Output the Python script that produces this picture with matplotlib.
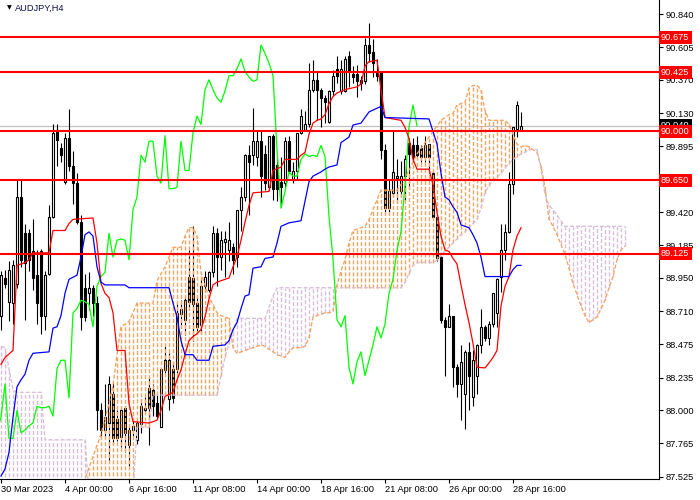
import numpy as np
import matplotlib
matplotlib.use('Agg')
import matplotlib.pyplot as plt

plt.rcParams['font.family'] = ['Liberation Sans', 'DejaVu Sans']
plt.rcParams['lines.scale_dashes'] = False

# AUDJPY H4 candles, bar 0 = 30 Mar 2023 16:00
opens = [88.68, 88.95, 88.78, 88.77, 88.91, 89.53, 89.27, 89.27, 89.14, 88.97,
         89.14, 88.68, 88.98, 89.39, 90.01, 89.88, 89.64, 89.95, 89.75, 89.63,
         89.35, 88.88, 88.84, 88.88, 88.77, 88.00, 87.86, 87.91, 88.12, 87.94,
         87.81, 88.02, 87.75, 87.86, 87.79, 87.90, 88.00, 88.16, 88.15, 88.05,
         87.88, 88.29, 88.08, 88.30, 88.30, 88.69, 88.65, 88.96, 88.95, 88.77,
         88.61, 88.89, 88.86, 88.99, 89.27, 89.10, 89.21, 89.15, 89.17, 89.10,
         89.44, 89.53, 89.83, 89.83, 89.82, 89.93, 89.84, 89.60, 89.97, 89.76,
         89.64, 89.63, 89.93, 89.65, 89.72, 89.99, 90.01, 90.05, 90.30, 90.37,
         90.30, 90.24, 90.07, 90.29, 90.45, 90.29, 90.29, 90.54, 90.41, 90.41,
         90.35, 90.36, 90.62, 90.57, 90.42, 90.42, 89.87, 89.45, 89.56, 89.67,
         89.57, 89.68, 89.92, 89.90, 89.90, 89.88, 89.82, 89.91, 89.70, 89.39,
         89.10, 88.65, 88.60, 88.68, 88.31, 88.19, 88.12, 88.42, 88.10, 88.25,
         88.47, 88.60, 88.52, 88.62, 88.70, 88.96, 89.15, 89.28, 89.62, 90.02,
         90.01]
highs = [89.00, 89.01, 89.07, 89.08, 89.66, 89.65, 89.34, 89.30, 89.37, 89.15,
         89.16, 89.00, 89.47, 90.05, 90.05, 89.92, 89.99, 90.16, 89.86, 89.70,
         89.40, 88.98, 88.99, 88.90, 88.82, 88.05, 88.19, 88.25, 88.20, 88.00,
         88.02, 88.03, 87.88, 87.93, 87.93, 88.08, 88.10, 88.24, 88.19, 88.11,
         88.30, 88.46, 88.41, 88.35, 88.77, 88.79, 88.82, 89.15, 89.32, 88.82,
         88.95, 89.00, 89.00, 89.32, 89.31, 89.29, 89.29, 89.35, 89.20, 89.44,
         89.60, 89.84, 89.90, 90.17, 90.01, 90.00, 89.90, 89.97, 89.98, 89.82,
         89.82, 89.96, 89.97, 89.78, 89.99, 90.16, 90.15, 90.49, 90.51, 90.43,
         90.31, 90.26, 90.30, 90.44, 90.54, 90.51, 90.54, 90.58, 90.47, 90.48,
         90.40, 90.67, 90.78, 90.66, 90.52, 90.43, 89.91, 89.66, 90.00, 89.80,
         89.79, 89.83, 89.95, 89.95, 89.97, 89.90, 89.97, 89.91, 89.72, 89.40,
         89.11, 88.67, 88.76, 88.68, 88.33, 88.47, 88.43, 88.49, 88.43, 88.48,
         88.73, 88.61, 88.64, 88.84, 88.95, 89.34, 89.34, 89.71, 90.03, 90.22,
         90.14]
lows = [88.58, 88.88, 88.64, 88.62, 88.88, 89.03, 88.65, 89.00, 88.86, 88.62,
        88.55, 88.58, 88.97, 89.38, 89.75, 89.78, 89.62, 89.72, 89.48, 89.34,
        88.58, 88.64, 88.72, 88.68, 87.86, 87.82, 87.81, 87.64, 87.75, 87.78,
        87.74, 87.70, 87.60, 87.82, 87.76, 87.84, 87.99, 87.75, 87.96, 87.94,
        87.88, 88.27, 88.00, 88.05, 88.27, 88.59, 88.54, 88.72, 88.50, 88.55,
        88.55, 88.85, 88.85, 88.96, 88.89, 89.01, 88.96, 89.07, 88.98, 89.03,
        89.29, 89.50, 89.40, 89.76, 89.75, 89.53, 89.58, 89.58, 89.51, 89.50,
        89.46, 89.60, 89.70, 89.63, 89.65, 89.98, 90.00, 90.03, 90.28, 90.08,
        90.03, 90.06, 90.06, 90.26, 90.35, 90.27, 90.28, 90.32, 90.35, 90.25,
        90.30, 90.34, 90.50, 90.39, 90.36, 89.80, 89.41, 89.42, 89.53, 89.49,
        89.53, 89.50, 89.59, 89.78, 89.80, 89.78, 89.78, 89.70, 89.38, 89.07,
        88.63, 88.25, 88.60, 88.17, 88.10, 87.93, 87.87, 88.00, 88.03, 88.12,
        88.41, 88.50, 88.47, 88.60, 88.60, 88.85, 89.08, 89.27, 89.55, 89.96,
        90.00]
closes = [88.97, 88.91, 89.01, 89.04, 89.53, 89.08, 89.06, 89.08, 88.95, 88.77,
          88.68, 88.97, 89.39, 89.99, 89.94, 89.83, 89.95, 89.75, 89.63, 89.35,
          88.67, 88.67, 88.88, 88.77, 88.00, 87.86, 87.95, 88.19, 87.80, 87.80,
          88.00, 87.84, 87.86, 87.89, 87.91, 88.03, 88.02, 88.02, 88.03, 87.96,
          88.30, 88.36, 88.36, 88.09, 88.70, 88.73, 88.79, 88.78, 88.76, 88.60,
          88.89, 88.96, 88.99, 89.27, 89.10, 89.22, 89.23, 89.22, 89.08, 89.44,
          89.53, 89.83, 89.78, 89.93, 89.93, 89.68, 89.63, 89.97, 89.59, 89.59,
          89.60, 89.93, 89.72, 89.72, 89.99, 90.11, 90.05, 90.30, 90.37, 90.30,
          90.24, 90.21, 90.29, 90.40, 90.40, 90.45, 90.52, 90.43, 90.39, 90.36,
          90.37, 90.62, 90.56, 90.49, 90.40, 89.87, 89.45, 89.57, 89.71, 89.68,
          89.68, 89.80, 89.84, 89.82, 89.83, 89.82, 89.90, 89.82, 89.39, 89.09,
          88.65, 88.60, 88.68, 88.31, 88.19, 88.35, 88.42, 88.25, 88.36, 88.47,
          88.60, 88.52, 88.62, 88.84, 88.94, 89.15, 89.28, 89.62, 90.03, 90.19,
          90.04]

# Tenkan-sen (red) and Kijun-sen (blue): bar index, price
tenkan_bar = [0, 1, 3, 4, 6, 7, 8, 12, 13, 16, 17, 18, 23, 24, 25, 26, 27, 28, 29, 31,
              32, 33, 37, 39, 40, 41, 43, 44, 45, 46, 47, 48, 49, 50, 51, 52, 53, 54, 57, 58,
              59, 60, 61, 62, 63, 67, 68, 70, 71, 74, 75, 76, 77, 78, 79, 80, 81, 82, 83, 84,
              86, 89, 90, 91, 92, 94, 95, 96, 100, 101, 102, 103, 104, 107, 108, 109, 110, 111, 112, 113,
              114, 115, 116, 117, 118, 119, 121, 122, 123, 124, 125, 126, 127, 128, 129, 130]
tenkan_val = [88.33, 88.38, 88.43, 89.04, 89.06, 89.08, 89.13, 89.13, 89.29, 89.29,
              89.34, 89.37, 89.38, 89.20, 88.91, 88.84, 88.81, 88.70, 88.43, 88.43,
              88.05, 87.92, 87.91, 87.93, 88.00, 88.10, 88.13, 88.22, 88.29, 88.40,
              88.50, 88.53, 88.55, 88.58, 88.67, 88.80, 88.90, 88.92, 88.95, 89.03,
              89.10, 89.22, 89.35, 89.47, 89.56, 89.57, 89.72, 89.745, 89.80, 89.80,
              89.83, 89.85, 89.98, 90.06, 90.08, 90.09, 90.12, 90.20, 90.25, 90.276,
              90.30, 90.32, 90.34, 90.47, 90.50, 90.51, 90.30, 90.10, 90.08, 90.03,
              89.95, 89.80, 89.73, 89.73, 89.62, 89.42, 89.25, 89.15, 89.14, 89.09,
              89.05, 88.90, 88.76, 88.63, 88.48, 88.31, 88.305, 88.34, 88.38, 88.43,
              88.75, 88.89, 88.96, 89.15, 89.25, 89.31]
kijun_bar = [0, 1, 2, 3, 4, 5, 6, 7, 8, 12, 13, 14, 15, 16, 17, 19, 20, 21, 22, 23,
             24, 25, 26, 31, 32, 42, 43, 44, 45, 46, 48, 49, 52, 53, 56, 57, 58, 59, 60, 61,
             62, 63, 65, 66, 68, 69, 70, 72, 75, 76, 77, 78, 80, 81, 82, 84, 85, 86, 87, 88,
             90, 91, 92, 95, 96, 107, 108, 109, 110, 111, 112, 113, 114, 115, 117, 118, 119, 120, 121, 127,
             128, 129, 130]
kijun_val = [87.53, 87.58, 87.70, 87.95, 88.17, 88.22, 88.26, 88.36, 88.41, 88.42,
             88.59, 88.60, 88.68, 88.84, 88.94, 88.97, 89.10, 89.26, 89.28, 89.25,
             89.03, 88.92, 88.90, 88.90, 88.88, 88.88, 88.77, 88.67, 88.50, 88.40,
             88.40, 88.36, 88.36, 88.46, 88.47, 88.50, 88.58, 88.63, 88.73, 88.82,
             88.83, 89.02, 89.03, 89.09, 89.10, 89.20, 89.32, 89.345, 89.36, 89.50,
             89.64, 89.68, 89.71, 89.73, 89.745, 89.76, 89.92, 89.94, 89.96, 90.046,
             90.06, 90.10, 90.14, 90.18, 90.10, 90.09, 90.00, 89.91, 89.70, 89.53,
             89.51, 89.46, 89.42, 89.33, 89.31, 89.26, 89.20, 89.10, 88.96, 88.96,
             89.01, 89.04, 89.04]

# Senkou spans per bar (already shifted 26 bars ahead), bars 0..156
span_a = [87.30, 87.30, 87.30, 87.30, 87.30, 87.30, 87.30, 87.30, 87.30, 87.30,
          87.30, 87.30, 87.30, 87.30, 87.30, 87.30, 87.30, 87.30, 87.30, 87.30,
          87.30, 87.51, 87.59, 87.67, 87.75, 87.83, 87.94, 88.05, 88.18, 88.40,
          88.60, 88.62, 88.64, 88.70, 88.77, 88.77, 88.77, 88.77, 88.77, 88.93,
          88.98, 89.03, 89.10, 89.17, 89.17, 89.17, 89.25, 89.31, 89.31, 89.25,
          88.99, 88.90, 88.81, 88.76, 88.70, 88.68, 88.67, 88.66, 88.45, 88.41,
          88.42, 88.43, 88.44, 88.45, 88.46, 88.47, 88.46, 88.44, 88.42, 88.40,
          88.39, 88.38, 88.42, 88.45, 88.45, 88.45, 88.46, 88.52, 88.67, 88.68,
          88.69, 88.70, 88.70, 88.71, 88.90, 89.00, 89.08, 89.20, 89.29, 89.30,
          89.31, 89.32, 89.37, 89.44, 89.51, 89.58, 89.58, 89.58, 89.58, 89.58,
          89.62, 89.67, 89.72, 89.78, 89.84, 89.88, 89.92, 89.96, 90.00, 90.04,
          90.08, 90.10, 90.12, 90.13, 90.19, 90.20, 90.21, 90.31, 90.33, 90.33,
          90.30, 90.15, 90.08, 90.08, 90.08, 90.08, 90.08, 90.05, 89.98, 89.91,
          89.89, 89.90, 89.89, 89.87, 89.85, 89.75, 89.60, 89.37, 89.32, 89.26,
          89.19, 89.12, 89.02, 88.91, 88.83, 88.75, 88.68, 88.63, 88.65, 88.67,
          88.73, 88.79, 88.88, 88.96, 89.08, 89.15, 89.18]
span_b = [88.46, 88.45, 88.30, 88.15, 88.13, 88.13, 88.13, 88.13, 88.13, 88.13,
          88.13, 87.79, 87.79, 87.79, 87.79, 87.79, 87.79, 87.79, 87.79, 87.79,
          87.79, 87.79, 87.40, 87.40, 87.40, 87.40, 87.40, 87.40, 87.40, 87.40,
          87.40, 87.40, 87.40, 87.40, 87.88, 87.88, 87.88, 87.88, 88.11, 88.11,
          88.11, 88.11, 88.11, 88.11, 88.11, 88.11, 88.11, 88.11, 88.11, 88.11,
          88.11, 88.11, 88.11, 88.11, 88.11, 88.25, 88.38, 88.48, 88.56, 88.66,
          88.66, 88.66, 88.66, 88.66, 88.66, 88.66, 88.66, 88.74, 88.82, 88.88,
          88.88, 88.88, 88.88, 88.88, 88.88, 88.88, 88.88, 88.88, 88.88, 88.88,
          88.88, 88.88, 88.88, 88.88, 88.88, 88.88, 88.88, 88.88, 88.88, 88.88,
          88.88, 88.88, 88.88, 88.88, 88.88, 88.88, 88.88, 88.88, 88.88, 88.88,
          88.88, 88.92, 88.98, 89.04, 89.06, 89.06, 89.06, 89.06, 89.06, 89.08,
          89.11, 89.14, 89.17, 89.20, 89.23, 89.26, 89.28, 89.31, 89.34, 89.37,
          89.45, 89.56, 89.61, 89.65, 89.67, 89.70, 89.74, 89.77, 89.80, 89.82,
          89.84, 89.85, 89.87, 89.87, 89.87, 89.73, 89.55, 89.47, 89.44, 89.40,
          89.36, 89.32, 89.32, 89.32, 89.32, 89.32, 89.32, 89.32, 89.32, 89.32,
          89.32, 89.32, 89.32, 89.32, 89.32, 89.32, 89.32]

levels = [90.675, 90.425, 90.000, 89.650, 89.125]
bid = 90.040
price_ticks = [90.840, 90.605, 90.370, 90.130, 89.895, 89.420, 89.185,
               88.950, 88.710, 88.475, 88.235, 88.000, 87.765, 87.525]
time_ticks = [0, 16, 32, 48, 64, 80, 96, 112, 128]
time_labels = ['30 Mar 2023', '4 Apr 00:00', '6 Apr 16:00', '11 Apr 08:00',
               '14 Apr 00:00', '18 Apr 16:00', '21 Apr 08:00', '26 Apr 00:00',
               '28 Apr 16:00']
chikou_shift = 26

fig = plt.figure(figsize=(7, 5), dpi=100)
ax = fig.add_axes([0, 21 / 500, 659 / 700, 479 / 500])
ax.set_xlim(-0.25, 164.5)
ax.set_ylim(87.5087, 90.9425)

o = np.array(opens); h = np.array(highs); l = np.array(lows); c = np.array(closes)
bars = np.arange(len(c))

# bid line
ax.axhline(bid, color='#c0c0c0', lw=0.9, zorder=1)

# candles
ax.vlines(bars, l, h, color='black', lw=0.8, zorder=2)
up = c >= o
body = np.maximum(np.abs(c - o), 0.004)
ax.bar(bars, body, bottom=np.minimum(o, c), width=0.5,
       color=np.where(up, 'white', 'black'), edgecolor='black', lw=0.8, zorder=2)

# kumo hatching, one dashed vertical per bar
dash = (0, (2.9, 1.45))
sa = np.array(span_a); sb = np.array(span_b)
cx = np.arange(len(sa))
bull = sa >= sb
for mask, col in [(bull, '#f4a460'), (~bull, '#d8bfd8')]:
    ax.vlines(cx[mask], np.minimum(sa, sb)[mask], np.maximum(sa, sb)[mask],
              colors=col, linestyles=[dash], lw=1.0, zorder=3)
ax.plot(cx, sa, color='#f4a460', ls=dash, lw=0.95, zorder=3)
ax.plot(cx, sb, color='#d8bfd8', ls=dash, lw=0.95, zorder=3)

# ichimoku lines
ax.plot(bars - chikou_shift, c, color='#00ff00', lw=0.9, zorder=4)
ax.plot(tenkan_bar, tenkan_val, color='#ff0000', lw=0.9, zorder=4)
ax.plot(kijun_bar, kijun_val, color='#0000ff', lw=0.9, zorder=4)

for lv in levels:
    ax.axhline(lv, color='#ff0000', lw=1.5, zorder=5)

# axes look
for s in ['left', 'top']:
    ax.spines[s].set_visible(False)
for s in ['right', 'bottom']:
    ax.spines[s].set_linewidth(0.8)
ax.yaxis.tick_right()
ax.set_yticks(price_ticks)
ax.set_yticklabels(['%.3f' % v for v in price_ticks])
ax.set_xticks(time_ticks)
ax.set_xticklabels(time_labels)
for t in ax.get_xticklabels():
    t.set_ha('left')
ax.tick_params(axis='both', direction='out', length=3, width=0.8,
               labelsize=6.7, pad=1.5, colors='black')

# price labels on the scale
def tag(value, face):
    ax.annotate('%.3f' % value, xy=(1, value), xycoords=('axes fraction', 'data'),
                xytext=(1.5, 0), textcoords='offset points', ha='left', va='center',
                color='white', fontsize=6.7, annotation_clip=False, zorder=10,
                bbox=dict(boxstyle='square,pad=0.22', fc=face, ec='none'))

tag(bid, 'black')
for lv in levels:
    tag(lv, '#ff0000')

fig.text(7 / 700, 1 - 8 / 500, '\u25bc', fontsize=4.5, va='center', ha='left',
         family='DejaVu Sans', color='black')
fig.text(15 / 700, 1 - 8 / 500, 'AUDJPY,H4', fontsize=6.7, va='center', ha='left',
         color='#101040')

fig.savefig('out.png', dpi=100)
